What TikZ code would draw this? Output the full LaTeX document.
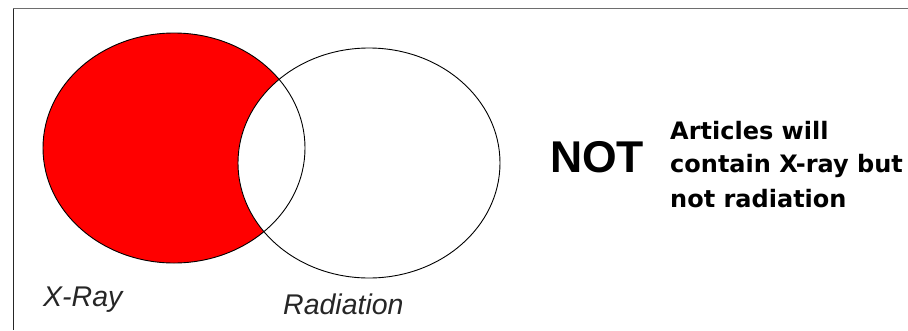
\documentclass[tikz,border=0pt]{standalone}
\usepackage{fontspec}
\setmainfont{Liberation Sans}
\newfontfamily\parafont{DejaVu Sans}
\definecolor{framegray}{HTML}{6E6E6E}
\begin{document}
\begin{tikzpicture}[x=1pt,y=-1pt,
  venn/.style={draw=black,line width=0.9pt},
  label/.style={anchor=base west,inner sep=0pt,font=\itshape\fontsize{28.5}{28.5}\selectfont,text=black!85},
  bigword/.style={anchor=base west,inner sep=0pt,font=\bfseries\fontsize{44.5}{44.5}\selectfont},
  para/.style={anchor=base west,inner sep=0pt,font=\parafont\bfseries\fontsize{24}{24}\selectfont}]
\useasboundingbox (0,0) rectangle (908,330);
\fill[white] (13.5,8.5) rectangle (908,330);
\draw[line width=1.8pt,framegray] (13,8.5) -- (908,8.5);
\draw[line width=1pt,black!85] (13.5,8.5) -- (13.5,330);
% Venn
\fill[red] (174,148) ellipse [x radius=131, y radius=115];
\fill[white] (369,163) ellipse [x radius=131, y radius=115];
\draw[venn] (174,148) ellipse [x radius=131, y radius=115];
\draw[venn] (369,163) ellipse [x radius=131, y radius=115];
% labels
\node[label] (xray) at (43,306) {X-Ray};
\node[label] (rad) at (283,314) {Radiation};
\node[bigword] (not) at (550,172) {NOT};
\node[para] (p1) at (670,139) {Articles will};
\node[para] (p2) at (670,172) {contain X-ray but};
\node[para] (p3) at (670,207) {not radiation};
\end{tikzpicture}
\end{document}
